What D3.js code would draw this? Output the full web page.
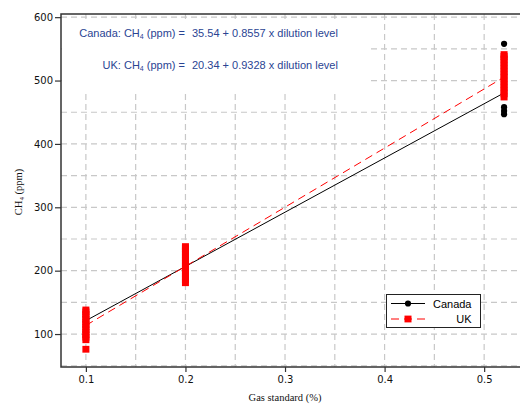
<!DOCTYPE html>
<html>
<head>
<meta charset="utf-8">
<script src="https://cdn.jsdelivr.net/npm/d3@7"></script>
<style>
body { margin: 0; background: #fff; }
svg { display: block; }
</style>
</head>
<body>
<svg id="canvas" width="520" height="407"></svg>
<script>
// gas standard levels (%)
let levels = [0.1, 0.2, 0.52]

// CH4 readings (ppm) at each level
let canadaPpm = [
    [96, 104, 112, 120, 128, 134],
    [188, 197, 206, 215, 224, 232],
    [558, 535, 510, 485, 458, 452, 447]
]
let ukPpm = [
    [76, 91, 95, 99, 103, 107, 111, 115, 119, 123, 127, 131, 135, 138],
    [181, 186, 191, 196, 201, 206, 211, 216, 221, 226, 231, 235, 238],
    [474, 479, 484, 489, 494, 499, 504, 509, 514, 519, 524, 529, 534, 538, 541]
]

// regression: CH4 = intercept + slope x dilution level
let seriesNames = ['Canada', 'UK']
let intercepts = [35.54, 20.34]
let slopes = [0.8557, 0.9328]

let xTicks = [0.1, 0.2, 0.3, 0.4, 0.5]
let yTicks = [100, 200, 300, 400, 500, 600]

let canvas = d3.select('#canvas')

let plotLeft = 61, plotRight = 520, plotTop = 14, plotBottom = 367
let xScale = d3.scaleLinear().domain([0.075, 0.536]).range([plotLeft, plotRight])
let yScale = d3.scaleLinear().domain([48, 605]).range([plotBottom, plotTop])

let gridColor = '#c8c8c8'
let textBlue = '#2a4493'

// grid
canvas.append('g')
    .selectAll('line')
    .data(d3.range(0.1, 0.501, 0.05))
    .enter()
    .append('line')
    .attr('x1', (d) => xScale(d)).attr('x2', (d) => xScale(d))
    .attr('y1', plotTop).attr('y2', plotBottom)
    .attr('stroke', gridColor).attr('stroke-width', 1.2)
    .attr('stroke-dasharray', '6,4')
canvas.append('g')
    .selectAll('line')
    .data(d3.range(50, 601, 50))
    .enter()
    .append('line')
    .attr('x1', plotLeft).attr('x2', plotRight)
    .attr('y1', (d) => yScale(d)).attr('y2', (d) => yScale(d))
    .attr('stroke', gridColor).attr('stroke-width', 1.2)
    .attr('stroke-dasharray', '6,4')

// white box behind the equations
canvas.append('rect')
    .attr('x', plotLeft + 1).attr('y', 19)
    .attr('width', 308).attr('height', 71)
    .attr('fill', '#fff')

let eqs = canvas.append('g')
    .attr('font-family', '"Liberation Sans", Arial, sans-serif')
    .attr('font-size', 11)
    .attr('fill', textBlue)
seriesNames.forEach((name, i) => {
    let y = 37 + i * 32
    let lab = eqs.append('text')
        .attr('x', 185).attr('y', y)
        .attr('text-anchor', 'end')
    lab.append('tspan').text(name + ': CH')
    lab.append('tspan').attr('font-size', 7).attr('dy', 2).text('4')
    lab.append('tspan').attr('dy', -2).text(' (ppm) =')
    eqs.append('text')
        .attr('x', 192).attr('y', y)
        .text(intercepts[i].toFixed(2) + ' + ' + slopes[i].toFixed(4) + ' x dilution level')
})

// fitted lines
let fitLine = (i) => levels.map((lv) => [lv, intercepts[i] + slopes[i] * lv * 1000])
let lineGen = d3.line().x((d) => xScale(d[0])).y((d) => yScale(d[1]))
canvas.append('path')
    .attr('d', lineGen(fitLine(0)))
    .attr('fill', 'none').attr('stroke', '#000').attr('stroke-width', 1)
canvas.append('path')
    .attr('d', lineGen(fitLine(1)))
    .attr('fill', 'none').attr('stroke', '#ff0000').attr('stroke-width', 1)
    .attr('stroke-dasharray', '8,5')

// markers
let flatten = (arr) => {
    let out = []
    arr.forEach((vals, i) => vals.forEach((v) => out.push([levels[i], v])))
    return out
}
canvas.append('g')
    .selectAll('circle')
    .data(flatten(canadaPpm))
    .enter()
    .append('circle')
    .attr('cx', (d) => xScale(d[0]))
    .attr('cy', (d) => yScale(d[1]))
    .attr('r', 3.1)
    .attr('fill', '#000')
canvas.append('g')
    .selectAll('rect')
    .data(flatten(ukPpm))
    .enter()
    .append('rect')
    .attr('x', (d) => xScale(d[0]) - 3.5)
    .attr('y', (d) => yScale(d[1]) - 3.4)
    .attr('width', 7).attr('height', 6.8)
    .attr('fill', '#ff0000')

// axes
let yAxis = canvas.append('g')
    .attr('transform', 'translate(' + plotLeft + ',0)')
    .call(d3.axisLeft(yScale).tickValues(yTicks).tickSize(6).tickPadding(2))
let xAxis = canvas.append('g')
    .attr('transform', 'translate(0,' + plotBottom + ')')
    .call(d3.axisBottom(xScale).tickValues(xTicks).tickSize(5).tickPadding(4).tickFormat(d3.format('.1f')))
;[xAxis, yAxis].forEach((ax) => {
    ax.select('.domain').remove()
    ax.selectAll('line').attr('stroke', '#333').attr('stroke-width', 1.2)
    ax.selectAll('text')
        .attr('font-family', '"DejaVu Sans", Verdana, sans-serif')
        .attr('font-size', 10)
        .attr('fill', '#111')
})

// frame (left, bottom, top)
canvas.append('path')
    .attr('d', 'M' + plotRight + ',' + plotTop + 'H' + plotLeft + 'V' + plotBottom + 'H' + plotRight)
    .attr('fill', 'none').attr('stroke', '#333').attr('stroke-width', 1.5)

// axis titles
canvas.append('text')
    .attr('x', 285).attr('y', 401)
    .attr('text-anchor', 'middle')
    .attr('font-family', '"Liberation Serif", "Times New Roman", serif')
    .attr('font-size', 10.5)
    .attr('fill', '#111')
    .text('Gas standard (%)')
let yTitle = canvas.append('text')
    .attr('transform', 'translate(22,192) rotate(-90)')
    .attr('text-anchor', 'middle')
    .attr('font-family', '"Liberation Serif", "Times New Roman", serif')
    .attr('font-size', 10.5)
    .attr('fill', '#111')
yTitle.append('tspan').text('CH')
yTitle.append('tspan').attr('font-size', 7).attr('dy', 2).text('4')
yTitle.append('tspan').attr('dy', -2).text(' (ppm)')

// legend
let legend = canvas.append('g')
legend.append('rect')
    .attr('x', 386.5).attr('y', 294.5)
    .attr('width', 94).attr('height', 33)
    .attr('fill', '#fff').attr('stroke', '#222').attr('stroke-width', 1)
seriesNames.forEach((name, i) => {
    let y = 303.5 + i * 15.5
    legend.append('line')
        .attr('x1', 391).attr('x2', 425).attr('y1', y).attr('y2', y)
        .attr('stroke', i === 0 ? '#000' : '#ff0000').attr('stroke-width', 1)
        .attr('stroke-dasharray', i === 0 ? null : '8,5')
    if (i === 0) {
        legend.append('circle').attr('cx', 408).attr('cy', y).attr('r', 3.1).attr('fill', '#000')
    } else {
        legend.append('rect').attr('x', 404.5).attr('y', y - 3.4).attr('width', 7).attr('height', 6.8).attr('fill', '#ff0000')
    }
    legend.append('text')
        .attr('x', 471.5).attr('y', y + 4)
        .attr('text-anchor', 'end')
        .attr('font-family', '"Liberation Sans", Arial, sans-serif')
        .attr('font-size', 11)
        .attr('fill', '#000')
        .text(name)
})
</script>
</body>
</html>
